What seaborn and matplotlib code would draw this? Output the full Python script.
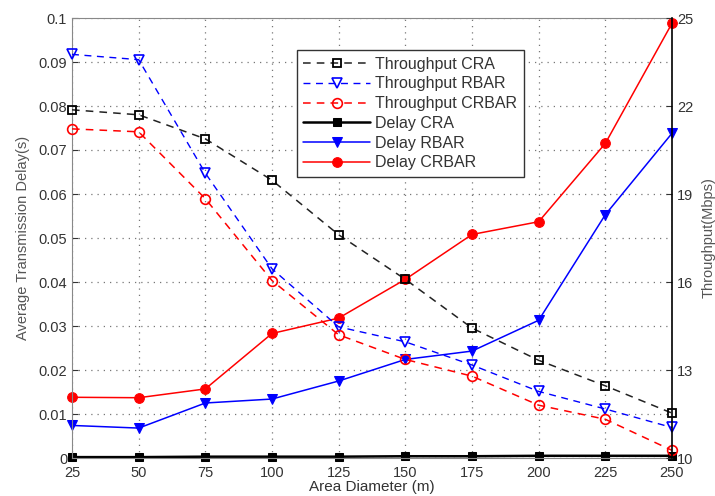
import numpy as np
import pandas as pd
import matplotlib
matplotlib.use("Agg")
import matplotlib.pyplot as plt
import seaborn as sns

diameter = [25, 50, 75, 100, 125, 150, 175, 200, 225, 250]

thr_cra = [21.87, 21.70, 20.88, 19.47, 17.61, 16.09, 14.43, 13.33, 12.46, 11.53]
thr_rbar = [23.76, 23.58, 19.71, 16.45, 14.47, 13.96, 13.17, 12.27, 11.67, 11.04]
thr_crbar = [21.22, 21.12, 18.84, 16.05, 14.20, 13.36, 12.79, 11.80, 11.32, 10.26]

delay_cra = [0.0002, 0.0002, 0.0003, 0.0003, 0.0003, 0.0004, 0.0004, 0.0005, 0.0005, 0.0005]
delay_rbar = [0.0074, 0.0068, 0.0125, 0.0134, 0.0175, 0.0224, 0.0243, 0.0313, 0.0553, 0.0738]
delay_crbar = [0.0138, 0.0137, 0.0157, 0.0283, 0.0318, 0.0406, 0.0508, 0.0537, 0.0715, 0.0988]

left_ticks = [0, 0.01, 0.02, 0.03, 0.04, 0.05, 0.06, 0.07, 0.08, 0.09, 0.1]
left_labels = ["0", "0.01", "0.02", "0.03", "0.04", "0.05", "0.06", "0.07", "0.08", "0.09", "0.1"]
right_ticks = [10, 13, 16, 19, 22, 25]

sns.set_style("white")
plt.rcParams['font.family'] = ['Liberation Sans', 'DejaVu Sans']

fig = plt.figure(figsize=(7.15, 4.96), dpi=100)
ax = fig.add_axes([72 / 715, 1 - 458 / 496, 600 / 715, 440 / 496])
ax2 = ax.twinx()

df = pd.DataFrame({"d": diameter, "tc": thr_cra, "tr": thr_rbar, "tb": thr_crbar,
                   "dc": delay_cra, "dr": delay_rbar, "db": delay_crbar})

# Delay (left axis)
sns.lineplot(data=df, x="d", y="dc", ax=ax, color="black", marker="s", markersize=6,
             linewidth=1.8, markeredgecolor="black", label="Delay CRA", clip_on=False, legend=False)
sns.lineplot(data=df, x="d", y="dr", ax=ax, color="blue", marker="v", markersize=7,
             linewidth=1.1, markeredgecolor="blue", label="Delay RBAR", clip_on=False, legend=False)
sns.lineplot(data=df, x="d", y="db", ax=ax, color="red", marker="o", markersize=7,
             linewidth=1.1, markeredgecolor="red", label="Delay CRBAR", clip_on=False, legend=False)

# Throughput (right axis)
sns.lineplot(data=df, x="d", y="tc", ax=ax2, color="#222222", marker="s", markersize=6,
             linewidth=1.1, linestyle=(0, (5, 4)), markerfacecolor="none",
             markeredgecolor="black", markeredgewidth=1.3, label="Throughput CRA",
             clip_on=False, legend=False)
sns.lineplot(data=df, x="d", y="tr", ax=ax2, color="blue", marker="v", markersize=7,
             linewidth=1.0, linestyle=(0, (5, 4)), markerfacecolor="none",
             markeredgecolor="blue", markeredgewidth=1.2, label="Throughput RBAR",
             clip_on=False, legend=False)
sns.lineplot(data=df, x="d", y="tb", ax=ax2, color="red", marker="o", markersize=7,
             linewidth=1.1, linestyle=(0, (5, 4)), markerfacecolor="none",
             markeredgecolor="red", markeredgewidth=1.2, label="Throughput CRBAR",
             clip_on=False, legend=False)

ax.set_xlim(25, 250)
ax.set_xticks(diameter)
ax.set_ylim(0, 0.1)
ax.set_yticks(left_ticks)
ax.set_yticklabels(left_labels)
ax2.set_ylim(10, 25)
ax2.set_yticks(right_ticks)

tick_color = "#333333"
for a in (ax, ax2):
    a.tick_params(axis="both", direction="in", length=4, labelsize=10.5,
                  colors=tick_color, width=0.8)
ax.tick_params(axis="x", pad=6)
ax.grid(True, linestyle=(0, (1, 4)), color="#777777", linewidth=0.9)
ax2.grid(False)

for side in ["left", "top", "bottom"]:
    ax.spines[side].set_color("#888888")
    ax2.spines[side].set_visible(False)
ax.spines["right"].set_visible(False)
ax2.spines["right"].set_color("black")
ax2.spines["right"].set_linewidth(1.2)

ax.set_xlabel("Area Diameter (m)", fontsize=11, color="#333333", labelpad=0)
ax.set_ylabel("Average Transmission Delay(s)", fontsize=10.5, color="#555555", labelpad=6)
ax2.set_ylabel("Throughput(Mbps)", fontsize=10.5, color="#555555", labelpad=6)

h1, l1 = ax.get_legend_handles_labels()
h2, l2 = ax2.get_legend_handles_labels()
leg = ax2.legend(h2 + h1, l2 + l1, loc="upper left", bbox_to_anchor=(0.375, 0.927),
                 borderaxespad=0, fontsize=11.5, frameon=True, fancybox=False,
                 borderpad=0.4, handlelength=4.2, labelspacing=0.3, handletextpad=0.3)
leg.get_frame().set_edgecolor("#333333")
leg.get_frame().set_linewidth(1.0)
leg.get_frame().set_alpha(1)
for t in leg.get_texts():
    t.set_color("#333333")

fig.savefig("out.png", dpi=100)
